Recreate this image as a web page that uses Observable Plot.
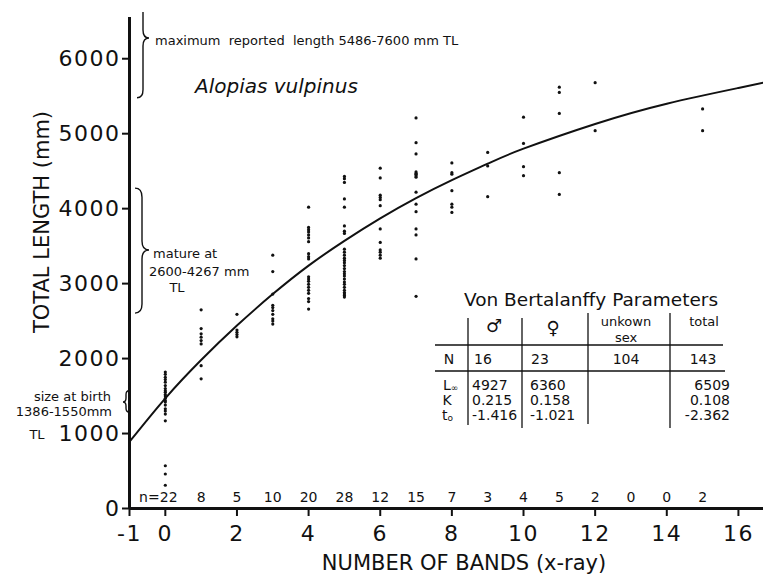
<!DOCTYPE html>
<html><head><meta charset="utf-8">
<script src="https://cdn.jsdelivr.net/npm/d3@7"></script>
<script src="https://cdn.jsdelivr.net/npm/@observablehq/plot@0.6"></script>
<style>body{margin:0;background:#fff;}</style>
</head><body><div id="chart"></div>
<script>
// ---- data ----
const bands = [0,1,2,3,4,5,6,7,8,9,10,11,12,13,14,15];
const sampleSizes = ["n=22","8","5","10","20","28","12","15","7","3","4","5","2","0","0","2"];
const len_b0 = [1820,1790,1750,1720,1685,1640,1600,1570,1550,1520,1500,1470,1440,1420,1380,1330,1300,1260,1170,570,460,310];
const len_b1 = [2650,2400,2330,2285,2240,2195,1905,1730];
const len_b2 = [2590,2380,2350,2320,2290];
const len_b3 = [3380,3160,2860,2710,2680,2640,2590,2530,2500,2460];
const len_b4 = [4020,3750,3720,3690,3650,3610,3560,3400,3360,3330,3090,3060,3030,2990,2950,2910,2870,2800,2760,2660];
const len_b5 = [4430,4400,4350,4130,4020,3770,3700,3670,3460,3420,3380,3340,3310,3280,3240,3200,3160,3130,3100,3060,3020,2990,2950,2910,2880,2860,2840,2820];
const len_b6 = [4540,4410,4180,4150,4120,4040,3730,3550,3450,3420,3380,3340];
const len_b7 = [5210,4880,4730,4490,4470,4460,4440,4420,4220,4060,3960,3730,3650,3330,2830];
const len_b8 = [4610,4480,4460,4240,4060,4020,3950];
const len_b9 = [4750,4570,4160];
const len_b10 = [5220,4870,4560,4440];
const len_b11 = [5620,5550,5270,4480,4190];
const len_b12 = [5680,5040];
const len_b15 = [5330,5040];

// fitted growth curve
const curveX = [-1,0,1,2,3,4,5,6,7,8,9,10,12,14,16,16.7];
const curveY = [890,1470,1980,2440,2860,3240,3570,3870,4140,4380,4600,4800,5130,5400,5610,5680];

const xTicks = [-1,0,2,4,6,8,10,12,14,16];
const yTicks = [0,1000,2000,3000,4000,5000,6000];

const maxRange = [5486, 7600];
const matureRange = [2600, 4267];
const birthRange = [1386, 1550];

const tableTitle = "Von Bertalanffy Parameters";
const tableCols = ["♂","♀","unkown|sex","total"];
const rowN = ["16","23","104","143"];
const rowLinf = ["4927","6360","","6509"];
const rowK = ["0.215","0.158","","0.108"];
const rowT0 = ["-1.416","-1.021","","-2.362"];

// ---- build tables ----
const byBand = {0:len_b0,1:len_b1,2:len_b2,3:len_b3,4:len_b4,5:len_b5,6:len_b6,7:len_b7,8:len_b8,9:len_b9,10:len_b10,11:len_b11,12:len_b12,15:len_b15};
const points = [];
for (const [b, arr] of Object.entries(byBand)) for (const v of arr) points.push({band:+b, len:v});
const curve = curveX.map((x,i)=>({x, y:curveY[i]}));
const nLabels = bands.map((b,i)=>({band:b, label:sampleSizes[i], n:0}));

const FONT = "'DejaVu Sans', sans-serif";

const plot = Plot.plot({
  width:763, height:576,
  marginLeft:129, marginRight:0, marginTop:17, marginBottom:68,
  x:{domain:[-1,16.7], label:null},
  y:{domain:[0,6550], label:null},
  style:{fontFamily:FONT, fontSize:"22px", color:"#111", background:"white", overflow:"visible"},
  marks:[
    Plot.axisY({ticks:yTicks, tickSize:7, tickPadding:2, tickFormat:d=>String(d), strokeWidth:2, label:null}),
    Plot.axisX({ticks:xTicks, tickSize:8, tickPadding:9, tickFormat:d=>String(d), strokeWidth:2, label:null}),
    Plot.ruleX([-1],{strokeWidth:3}),
    Plot.ruleY([0],{strokeWidth:3}),
    Plot.line(curve,{x:"x", y:"y", curve:"natural", strokeWidth:2}),
    Plot.dot(points,{x:"band", y:"len", r:1.6, fill:"#111", stroke:null}),
    Plot.text(nLabels.slice(1),{x:"band", y:"n", text:"label", dy:-11, fontSize:14}),
    Plot.text(nLabels.slice(0,1),{x:"band", y:"n", text:"label", dy:-11, dx:-7, fontSize:14})
  ]
});
document.getElementById("chart").appendChild(plot);

const sy = plot.scale("y");
const g = d3.select(plot).append("g").attr("font-family", FONT).attr("fill","#111");
d3.select(plot).selectAll("g[aria-label='y-axis tick label'] text, g[aria-label='x-axis tick label'] text").attr("letter-spacing","1.5px");

function brace(x, yTop, yMid, yBot, dir, w, r, curlTop=true){
  const e = x - dir*w, t = x + dir*w;
  let p = curlTop ? `M${e},${yTop} Q${x},${yTop} ${x},${yTop+r}` : `M${x},${yTop}`;
  p += ` L${x},${yMid-r} Q${x},${yMid} ${t},${yMid} Q${x},${yMid} ${x},${yMid+r} L${x},${yBot-r} Q${x},${yBot} ${e},${yBot}`;
  g.append("path").attr("d",p).attr("fill","none").attr("stroke","#111").attr("stroke-width",1.4);
}
// maximum length brace (clipped at top)
brace(143, 12, 38, sy.apply(maxRange[0])+1, 1, 6, 8, false);
// maturity brace
brace(142, sy.apply(matureRange[1]), 250, sy.apply(matureRange[0]), 1, 7, 9);
// birth brace
brace(126, sy.apply(birthRange[1])-1, 402, sy.apply(birthRange[0])+8, -1, 3, 4);

function txt(x,y,s,size,anchor="start",extra={}){
  const t = g.append("text").attr("x",x).attr("y",y).attr("font-size",size).attr("text-anchor",anchor).attr("dominant-baseline","central").text(s);
  for (const k in extra) t.attr(k, extra[k]);
  return t;
}
txt(155,40,"maximum  reported  length 5486-7600 mm TL",13);
txt(195,86,"Alopias vulpinus",20,"start",{"font-style":"italic"});
txt(153,253,"mature at",13);
txt(149,271,"2600-4267 mm",13);
txt(177,287,"TL",13,"middle");
txt(111,396,"size at birth",13,"end");
txt(112,411,"1386-1550mm",13,"end");
txt(37,434,"TL",13,"middle");

// axis titles
txt(464,563,"NUMBER OF BANDS (x-ray)",21,"middle");
txt(0,0,"TOTAL LENGTH (mm)",21,"middle",{transform:"translate(42,222) rotate(-90)"});

// parameter table
txt(591,299,tableTitle,18.5,"middle");
const L = (x1,y1,x2,y2)=>g.append("line").attr("x1",x1).attr("y1",y1).attr("x2",x2).attr("y2",y2).attr("stroke","#111").attr("stroke-width",1.3);
L(435,345,723,345); L(435,371,725,371);
L(468,318,468,425); L(522,318,522,428); L(588,313,588,424); L(670,313,670,428);
txt(494,325,tableCols[0],18,"middle");
txt(553,327,tableCols[1],18,"middle");
const uk = tableCols[2].split("|");
txt(626,321,uk[0],13,"middle"); txt(626,337,uk[1],13,"middle");
txt(704,321,tableCols[3],13,"middle");
txt(449,359,"N",14,"middle");
txt(474,359,rowN[0],14); txt(531,359,rowN[1],14); txt(626,359,rowN[2],14,"middle"); txt(703,359,rowN[3],14,"middle");
const lab = txt(443,385,"L",14); lab.append("tspan").attr("font-size",9).attr("dy",3).text("∞");
txt(447,400,"K",14,"middle");
const tl = txt(442,415,"t",14); tl.append("tspan").attr("font-size",9).attr("dy",3).text("o");
const rows = [[rowLinf,385],[rowK,400],[rowT0,415]];
for (const [r,y] of rows){
  txt(472,y,r[0],14); txt(530,y,r[1],14); txt(730,y,r[3],14,"end");
}
</script>
</body></html>
